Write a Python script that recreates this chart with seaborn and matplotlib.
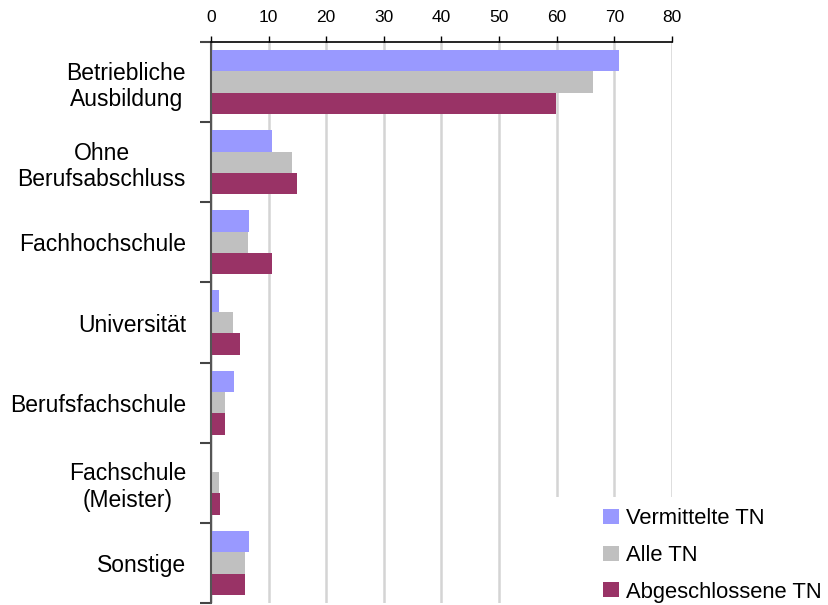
import matplotlib
matplotlib.use("Agg")
import matplotlib.pyplot as plt
from matplotlib.patches import Rectangle, Patch
from matplotlib.ticker import FixedLocator
import seaborn as sns
import pandas as pd
import numpy as np

# data
categories = ["Betriebliche\nAusbildung", "Ohne\nBerufsabschluss", "Fachhochschule",
              "Universität", "Berufsfachschule", "Fachschule\n(Meister)", "Sonstige"]
series = ["Vermittelte TN", "Alle TN", "Abgeschlossene TN"]
vermittelte = [70.8, 10.6, 6.6, 1.4, 4.0, 0.0, 6.6]
alle = [66.3, 14.0, 6.4, 3.8, 2.4, 1.4, 5.9]
abgeschlossen = [59.9, 14.9, 10.6, 5.0, 2.4, 1.6, 5.9]
colors = ["#9999FF", "#C0C0C0", "#993366"]
x_ticks = [0, 10, 20, 30, 40, 50, 60, 70, 80]

rows = []
for name, vals in zip(series, [vermittelte, alle, abgeschlossen]):
    for cat, v in zip(categories, vals):
        rows.append({"cat": cat, "series": name, "value": v})
df = pd.DataFrame(rows)

sns.set_style("white")
plt.rcParams["font.family"] = ["Liberation Sans", "DejaVu Sans"]
plt.rcParams["text.color"] = "black"
plt.rcParams["xtick.color"] = "black"
plt.rcParams["ytick.color"] = "black"

fig = plt.figure(figsize=(8.29, 6.05), dpi=100)
ax = fig.add_axes([211 / 829, 1 - 603 / 605, (672 - 211) / 829, (603 - 42) / 605])

sns.barplot(data=df, x="value", y="cat", hue="series", orient="h",
            order=categories, hue_order=series, palette=colors,
            saturation=1, width=0.8, ax=ax, legend=False,
            edgecolor="none", linewidth=0)

ax.set_xlim(0, 80)
ax.set_ylim(6.5, -0.5)
ax.set_xlabel("")
ax.set_ylabel("")

# x axis on top
ax.xaxis.tick_top()
ax.set_xticks(x_ticks)
ax.tick_params(axis="x", labelsize=12.5, labelcolor="black", direction="out",
               length=4, width=1, color="black", pad=8, top=True, bottom=False)
ax.grid(axis="x", color="#D4D4D4", linewidth=1.8)
ax.set_axisbelow(True)

# y ticks at group boundaries, labels at centers
ax.yaxis.set_major_locator(FixedLocator(np.arange(-0.5, 7.0, 1.0)))
ax.yaxis.set_minor_locator(FixedLocator(np.arange(0, 7)))
ax.set_yticklabels([], minor=False)
ax.set_yticklabels(categories, minor=True, fontsize=16.5, multialignment="center",
                   color="black")
ax.tick_params(axis="y", which="major", direction="out", length=8, width=1.5,
               color="#444444", left=True)
ax.tick_params(axis="y", which="minor", length=0, pad=18)

for s in ["right", "bottom"]:
    ax.spines[s].set_visible(False)
ax.spines["top"].set_color("black")
ax.spines["top"].set_linewidth(1.2)
ax.spines["left"].set_color("#555555")
ax.spines["left"].set_linewidth(1.5)

# white box behind the legend hides the grid lines
fig.add_artist(Rectangle((550 / 829, 0), 1, 1 - 497 / 605, transform=fig.transFigure,
                         facecolor="white", edgecolor="none", zorder=3))

handles = [Patch(facecolor=c, edgecolor="none") for c in colors]
fig.legend(handles, series, loc="upper left",
           bbox_to_anchor=(603 / 829, 1 - 508 / 605), frameon=False,
           fontsize=15.8, handlelength=0.72, handleheight=0.68,
           handletextpad=0.35, labelspacing=0.72, borderpad=0, borderaxespad=0)

fig.savefig("out.png", dpi=100)
